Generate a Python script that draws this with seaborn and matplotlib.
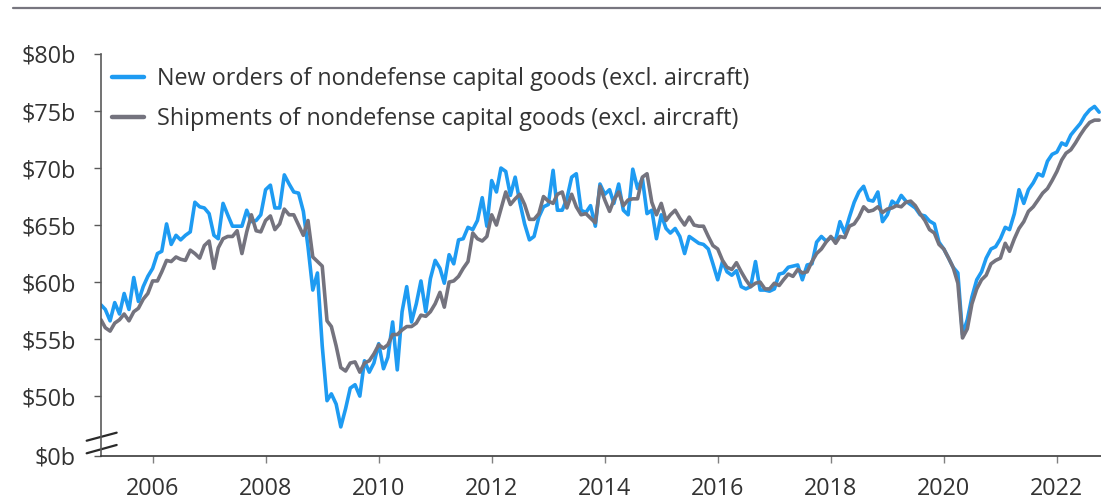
import numpy as np
import pandas as pd
import matplotlib
matplotlib.use("Agg")
import matplotlib.pyplot as plt
import matplotlib.dates as mdates
from matplotlib.lines import Line2D
import seaborn as sns

# ---------------- data (monthly, $ billions) ----------------
start_month = "2005-02-01"

new_orders = [
    58.0, 57.6, 56.6, 58.2, 57.2, 59.0, 57.6, 60.4, 58.3, 59.6,
    60.5, 61.2, 62.5, 62.7, 65.1, 63.3, 64.1, 63.7, 64.1, 64.4,
    67.0, 66.6, 66.5, 66.0, 64.1, 63.8, 66.9, 65.9, 64.9, 64.9,
    64.9, 66.3, 65.3, 65.4, 65.9, 68.1, 68.5, 66.5, 66.5, 69.4,
    68.6, 67.9, 67.8, 66.2, 63.1, 59.3, 60.8, 54.4, 49.6, 50.2,
    49.3, 47.3, 48.9, 50.7, 51.0, 50.0, 53.1, 52.1, 52.9, 54.6,
    52.4, 53.4, 56.5, 52.3, 57.4, 59.6, 56.5, 58.1, 60.1, 57.4,
    60.3, 61.9, 61.2, 59.9, 62.4,
    61.6, 63.7, 63.8, 64.8, 64.6, 65.4, 67.4, 64.9, 68.9, 67.9,
    70.0, 69.7, 67.6, 69.2, 67.0, 65.1, 63.7, 64.0, 65.7, 66.6,
    66.8, 69.8, 66.3, 66.3, 67.3, 69.2, 69.5, 66.3, 66.1, 66.7,
    64.9, 68.6, 67.7, 68.1, 66.9, 68.6, 66.3, 65.9, 69.9, 68.2,
    69.1, 66.0,
    66.3, 63.8, 65.9, 64.7, 64.3, 64.7, 64.0, 62.5, 64.0, 63.7,
    63.4, 63.3, 62.9, 61.6, 60.2, 61.8, 60.9, 60.6, 61.0, 59.6,
    59.4, 59.6, 61.8, 59.3, 59.3, 59.2, 59.4, 60.7, 60.8, 61.3,
    61.4, 61.5, 60.2, 61.5, 61.6, 63.5, 64.0, 63.6, 63.9, 63.7,
    65.3, 64.3, 65.7, 67.0, 67.9, 68.4, 67.2, 67.1, 67.9, 65.3,
    65.9, 67.1, 66.8, 67.6, 67.1, 66.8, 66.5, 65.9,
    65.8, 65.35, 65.1, 63.5, 62.9, 62.1, 61.3, 60.8, 55.4, 56.7,
    58.7, 60.2, 60.9, 62.1, 62.9, 63.1, 63.8, 64.8, 64.6, 66.0,
    68.1, 66.9, 68.1, 68.7, 69.5, 69.3, 70.6, 71.2, 71.4, 72.2,
    72.0, 72.9, 73.4, 73.9, 74.6, 75.1, 75.4, 74.9,
]

shipments = [
    56.7, 56.0, 55.7, 56.4, 56.7, 57.2, 56.6, 57.4, 57.7, 58.5,
    59.0, 60.1, 60.1, 60.9, 61.9, 61.8, 62.2, 62.0, 61.9, 62.8,
    62.5, 62.1, 63.2, 63.6, 61.2, 63.0, 63.8, 64.0, 64.0, 64.5,
    62.5, 64.4, 65.9, 64.5, 64.4, 65.4, 65.8, 64.6, 65.1, 66.4,
    65.9, 65.9, 65.0, 64.1, 65.4, 62.2, 61.8, 61.4, 56.6, 56.1,
    54.4, 52.5, 52.2, 52.9, 53.0, 52.1, 52.9, 53.1, 53.7, 54.5,
    54.2, 54.5, 55.4, 55.4, 55.8, 56.1, 56.1, 56.4, 57.1, 57.0,
    57.4, 58.1, 59.1, 57.8, 60.0,
    60.1, 60.5, 61.2, 61.8, 64.3, 63.8, 63.6, 64.0, 65.9, 65.0,
    66.4, 67.9, 66.8, 67.3, 67.7, 66.8, 65.5, 65.5, 66.0, 67.5,
    67.1, 66.9, 67.7, 67.9, 66.5, 67.7, 66.6, 65.9, 66.0, 65.6,
    65.2, 68.4, 67.2, 66.2, 67.2, 67.9, 66.7, 67.2, 67.3, 67.3,
    69.2, 69.5,
    67.0, 65.9, 66.9, 65.4, 65.9, 66.3, 65.6, 65.0, 65.7, 65.0,
    64.9, 64.9, 64.0, 63.2, 62.9, 61.9, 61.3, 61.1, 61.7, 60.9,
    60.2, 59.6, 59.9, 60.0, 59.4, 59.4, 59.9, 59.7, 60.2, 60.7,
    60.5, 61.1, 60.8, 60.9, 61.8, 62.5, 62.9, 63.5, 64.0, 63.4,
    64.0, 63.9, 64.9, 65.1, 65.7, 66.6, 66.2, 66.3, 66.6, 66.1,
    66.4, 66.5, 66.7, 66.6, 67.0, 67.1, 66.7, 66.0,
    65.4, 64.6, 64.3, 63.3, 62.9, 62.1, 61.3, 59.9, 55.1, 55.9,
    58.1, 59.4, 60.2, 60.6, 61.6, 61.9, 62.1, 63.4, 62.7, 63.8,
    64.7, 65.3, 66.2, 66.6, 67.2, 67.8, 68.2, 68.9, 69.7, 70.7,
    71.3, 71.6, 72.2, 72.9, 73.5, 74.0, 74.2, 74.2,
]

series_names = [
    "New orders of nondefense capital goods (excl. aircraft)",
    "Shipments of nondefense capital goods (excl. aircraft)",
]
y_tick_values = [50, 55, 60, 65, 70, 75, 80]
y_tick_labels = ["\\$50b", "\\$55b", "\\$60b", "\\$65b", "\\$70b", "\\$75b", "\\$80b"]
break_label = "\\$0b"
x_tick_years = [2006, 2008, 2010, 2012, 2014, 2016, 2018, 2020, 2022]

# ---------------- styling ----------------
BLUE = "#1e9bf2"
GRAY = "#74737e"
TEXT = "#333333"
AXIS_BOTTOM = 44.75   # position where the broken axis shows "$0b"
FS = 16.8

dates = pd.date_range(start_month, periods=len(new_orders), freq="MS")
df = pd.DataFrame({
    "date": list(dates) + list(dates),
    "value": new_orders + shipments,
    "series": [series_names[0]] * len(new_orders) + [series_names[1]] * len(shipments),
})

sns.set_theme(style="white")
plt.rcParams["font.family"] = ["Open Sans", "DejaVu Sans"]

fig = plt.figure(figsize=(11.01, 4.99), dpi=100)
ax = fig.add_axes([0.0917, 0.0862, 0.9083, 0.8056])

sns.lineplot(data=df, x="date", y="value", hue="series",
             palette=[BLUE, GRAY], linewidth=2.6, ax=ax)

ax.set_xlim(pd.Timestamp("2005-02-01"), pd.Timestamp("2022-10-13"))
ax.set_ylim(AXIS_BOTTOM, 80)

ax.set_xticks([pd.Timestamp(f"{y}-01-01") for y in x_tick_years])
ax.xaxis.set_major_formatter(mdates.DateFormatter("%Y"))
ax.set_yticks([AXIS_BOTTOM] + y_tick_values)
ax.set_yticklabels([break_label] + y_tick_labels)
ax.set_xlabel("")
ax.set_ylabel("")

for s in ["top", "right"]:
    ax.spines[s].set_visible(False)
ax.spines["left"].set_color("#5a5a5a")
ax.spines["left"].set_linewidth(1.2)
ax.spines["bottom"].set_color("#3a3a3a")
ax.spines["bottom"].set_linewidth(1.2)

ax.tick_params(axis="y", which="major", direction="out", length=5, width=1,
               color="#5a5a5a", labelsize=FS, labelcolor=TEXT, pad=13, left=True)
ax.tick_params(axis="x", which="major", direction="out", length=5, width=1,
               color="#808080", labelsize=FS, labelcolor=TEXT, pad=10, bottom=True)

# axis-break marks
for y0, y1 in [(0.038, 0.058), (0.0067, 0.0274)]:
    ax.add_line(Line2D([-0.0143, 0.0157], [y0, y1], transform=ax.transAxes,
                       color="#2a2a2a", linewidth=1.6, clip_on=False))

# legend
handles, labels = ax.get_legend_handles_labels()
leg = ax.legend(handles, labels, loc="upper left", bbox_to_anchor=(0.0115, 0.968),
                frameon=False, fontsize=FS, handlelength=1.35, handletextpad=0.55,
                labelspacing=0.68, borderaxespad=0, borderpad=0)
for line in leg.get_lines():
    line.set_linewidth(3.2)
for t in leg.get_texts():
    t.set_color(TEXT)

# top rule
fig.add_artist(Line2D([13 / 1101, 1.0], [1 - 8 / 499, 1 - 8 / 499],
                      transform=fig.transFigure, color="#77767f", linewidth=1.6))

fig.savefig("out.png", dpi=100)
